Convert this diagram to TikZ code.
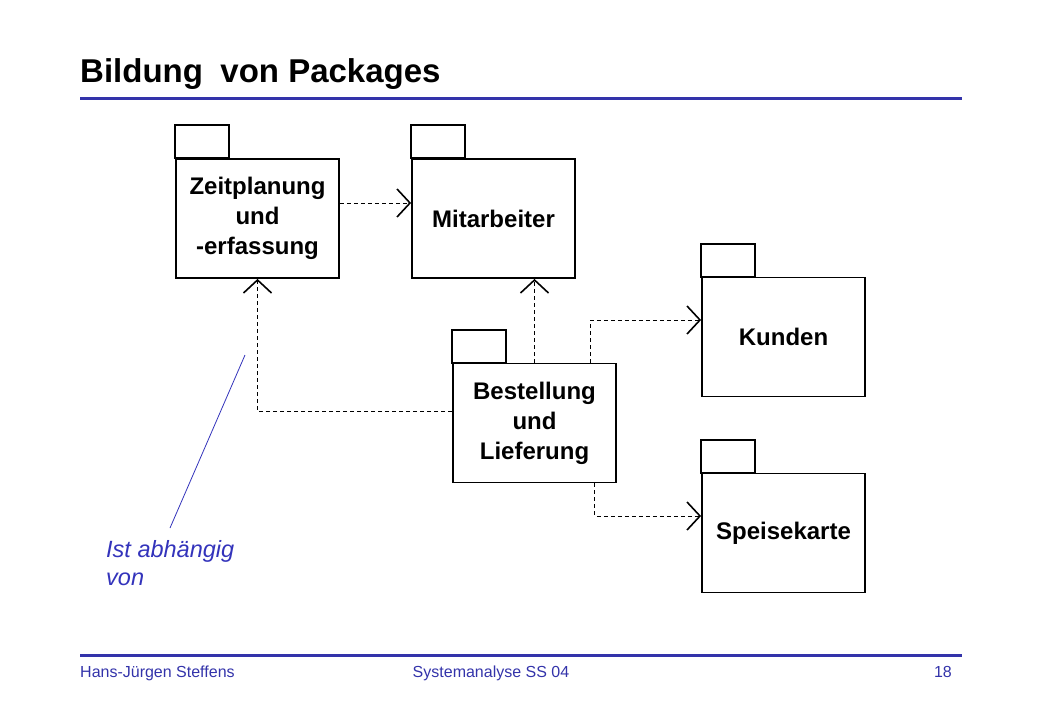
\documentclass[tikz,border=0pt]{standalone}
\usepackage{fontspec}
\setmainfont{Liberation Sans}
\usetikzlibrary{arrows.meta}
\definecolor{slideblue}{RGB}{51,51,170}
\definecolor{noteblue}{RGB}{51,51,187}
\begin{document}
\begin{tikzpicture}[x=1pt,y=-1pt,
  pkg/.style={draw, line width=1.8pt, minimum width=163pt, minimum height=119pt,
    inner sep=0pt, align=center, font=\bfseries\fontsize{24}{30}\selectfont},
  tab/.style={draw, line width=1.8pt},
  dep/.style={dashed, line width=0.9pt, dash pattern=on 4pt off 3pt,
    -{Straight Barb[length=13pt,width=28pt,line width=1.6pt]}},
  rule/.style={slideblue, line width=3pt},
  foot/.style={slideblue, font=\fontsize{16}{18}\selectfont, anchor=base}]
\useasboundingbox (0,0) rectangle (1040,720);
% title
\node[anchor=base west, font=\bfseries\fontsize{33}{38}\selectfont, inner sep=0pt] (title) at (80,82) {Bildung\hspace{0.25em} von Packages};
\draw[rule] (80,98) -- (962,98);
% packages
\node[pkg] (Z) at (257.5,218.5) {Zeitplanung\\und\\-erfassung};
\node[pkg] (M) at (493.5,218.5) {Mitarbeiter};
\node[pkg] (K) at (783.5,337) {Kunden};
\node[pkg] (B) at (534.5,423) {Bestellung\\und\\Lieferung};
\node[pkg] (S) at (783.5,533) {Speisekarte};
\foreach \p in {Z,M,K,B,S}{
  \draw[tab] (\p.north west) rectangle ([xshift=54pt,yshift=33pt]\p.north west);
}
% dependencies
\draw[dep] ([yshift=15.5pt]Z.east) -- ([yshift=15.5pt]M.west);
\draw[dep] ([yshift=12pt]B.west) -| (Z.south);
\draw[dep] (B.north) -- (B.north |- M.south);
\draw[dep] ([xshift=56pt]B.north) |- ([yshift=17pt]K.west);
\draw[dep] ([xshift=60pt]B.south) |- ([yshift=17pt]S.west);
% note
\coordinate (n1) at (245,355);
\coordinate (n2) at (170,528);
\draw[noteblue, line width=0.8pt] (n1) -- (n2);
\node[noteblue, anchor=north west, align=left, inner sep=0pt,
  font=\itshape\fontsize{23.5}{28}\selectfont] (note) at (106,540) {Ist abhängig\\von};
% footer
\draw[rule] (80,655) -- (962,655);
\node[foot, anchor=base west, inner sep=0pt] (f1) at (80,677) {Hans-Jürgen Steffens};
\node[foot, inner sep=0pt] (f2) at (491,677) {Systemanalyse SS 04};
\node[foot, anchor=base east, inner sep=0pt] (f3) at (952,677) {18};
\end{tikzpicture}
\end{document}
